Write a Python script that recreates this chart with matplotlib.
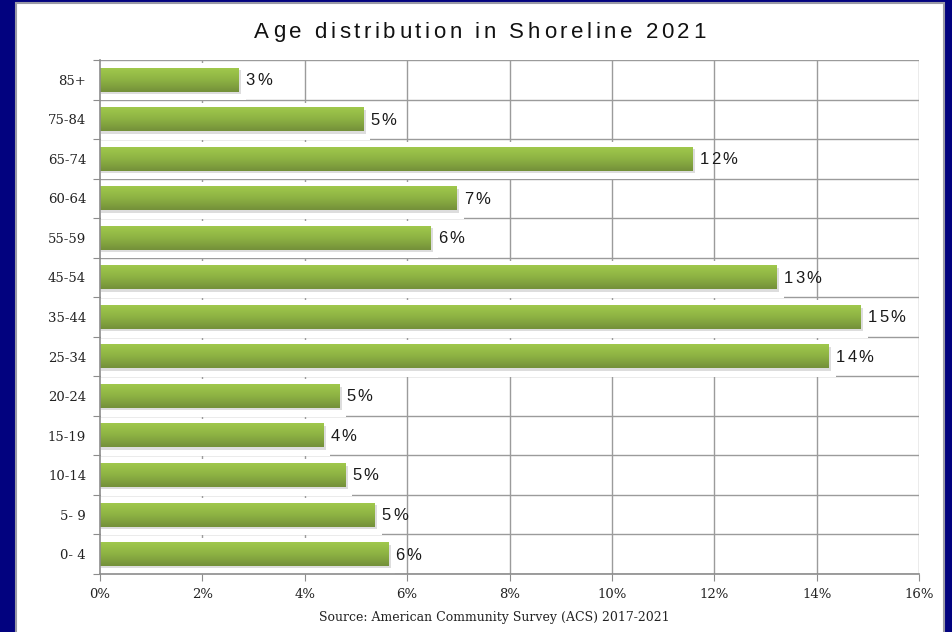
import matplotlib
matplotlib.use("Agg")
import matplotlib.pyplot as plt
import numpy as np
from matplotlib.patches import Rectangle
from matplotlib.colors import LinearSegmentedColormap
from matplotlib.transforms import offset_copy

categories = ["85+", "75-84", "65-74", "60-64", "55-59", "45-54", "35-44",
              "25-34", "20-24", "15-19", "10-14", "5- 9", "0- 4"]
values = [2.71, 5.14, 11.58, 6.97, 6.46, 13.22, 14.86, 14.24, 4.67, 4.36, 4.79, 5.37, 5.63]
value_labels = ["3%", "5%", "12%", "7%", "6%", "13%", "15%", "14%", "5%", "4%", "5%", "5%", "6%"]
xticks = [0, 2, 4, 6, 8, 10, 12, 14, 16]
xtick_labels = ["0%", "2%", "4%", "6%", "8%", "10%", "12%", "14%", "16%"]
title = "Age distribution in Shoreline 2021"
source = "Source: American Community Survey (ACS) 2017-2021"

fig = plt.figure(figsize=(9.52, 6.32), dpi=100)
fig.patch.set_facecolor("#02027f")
fig.add_artist(Rectangle((16/952, -0.01), (944-16)/952, 1.01-3/632, transform=fig.transFigure,
                         facecolor="white", edgecolor="#9a9aa6", linewidth=1.5, zorder=0))
renderer = fig.canvas.get_renderer()


def text_width(s, **kw):
    if not s:
        return 0.0
    t = fig.text(0, 0, s + "|", **kw)
    w1 = t.get_window_extent(renderer).width
    t.remove()
    t = fig.text(0, 0, "|", **kw)
    w2 = t.get_window_extent(renderer).width
    t.remove()
    return w1 - w2


def spaced_text(transform, x, y, s, spacing, ha="left", **kw):
    widths = [text_width(s[:k], **kw) for k in range(len(s) + 1)]
    total = widths[-1] + spacing * (len(s) - 1)
    start = 0.0
    if ha == "center":
        start = -total / 2
    for k, ch in enumerate(s):
        if ch == " ":
            continue
        dx = start + widths[k] + spacing * k
        tr = offset_copy(transform, fig=fig, x=dx, y=0, units="dots")
        fig.text(x, y, ch, transform=tr, ha="left", **kw)


ax = fig.add_axes([100/952, 1-574/632, (919-100)/952, (574-60)/632])
ax.set_facecolor("none")
n = len(categories)
ypos = np.arange(n)
ax.set_xlim(0, 16)
ax.set_ylim(n - 0.5, -0.5)

grid_c = "#9b9b9b"
for x in xticks[1:]:
    ax.axvline(x, color=grid_c, lw=1.0, zorder=1)
for b in np.arange(-0.5, n + 0.5, 1.0):
    ax.axhline(b, color=grid_c, lw=1.0, zorder=1)

cmap = LinearSegmentedColormap.from_list("g", ["#a0c84c", "#8db243", "#74903a"])
grad = np.linspace(0, 1, 64).reshape(-1, 1)
h = 0.6
off = 0.137
lab_kw = dict(fontsize=12, family="Liberation Sans", color="#1a1a1a", va="center", zorder=5)
for y, v, lab in zip(ypos, values, value_labels):
    ax.add_patch(Rectangle((0.02, y - 0.42), v + off - 0.02, 0.94, facecolor="white",
                           edgecolor="none", zorder=2))
    ax.add_patch(Rectangle((0.02, y - h/2 + 0.06), v + 0.03, h, facecolor="#bdbdbd",
                           edgecolor="none", alpha=0.5, zorder=3))
    ax.imshow(grad, cmap=cmap, aspect="auto", extent=[0, v, y + h/2, y - h/2],
              zorder=4, interpolation="bilinear")

ax.set_xlim(0, 16)
ax.set_ylim(n - 0.5, -0.5)

for y, v, lab in zip(ypos, values, value_labels):
    spaced_text(ax.transData, v + off, y + 0.02, lab, 2.0, **lab_kw)

for s in ["top", "right"]:
    ax.spines[s].set_visible(False)
for s in ["left", "bottom"]:
    ax.spines[s].set_color("#8c8c8c")
    ax.spines[s].set_linewidth(1.2)
    ax.spines[s].set_zorder(6)

ax.set_xticks(xticks)
ax.set_xticklabels(xtick_labels, family="DejaVu Serif", fontsize=9.5, color="#222222")
ax.set_yticks(np.arange(-0.5, n + 0.5, 1.0))
ax.set_yticklabels([])
ax.set_yticks(ypos, minor=True)
ax.set_yticklabels(categories, minor=True, family="DejaVu Serif", fontsize=9.5, color="#222222")
ax.tick_params(axis="y", which="major", length=5, color="#8c8c8c", direction="out")
ax.tick_params(axis="y", which="minor", length=0, pad=10)
ax.tick_params(axis="x", length=5, color="#8c8c8c", direction="out", pad=5)

spaced_text(fig.transFigure, 480/952, 1-32/632, title, 3.6, ha="center",
            fontsize=16, family="Liberation Sans", color="#111111", va="center")
fig.text(494/952, 1-618/632, source, ha="center", va="center", fontsize=9,
         family="DejaVu Serif", color="#222222")

fig.savefig("out.png", dpi=100, facecolor=fig.get_facecolor())
